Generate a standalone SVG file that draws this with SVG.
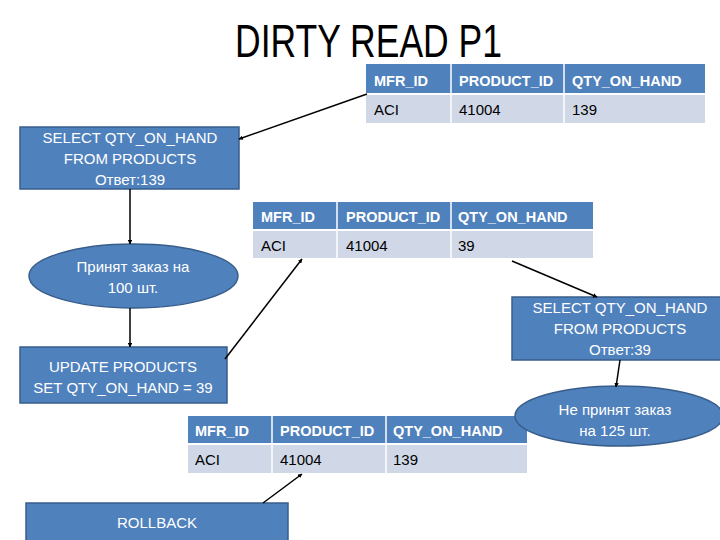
<svg xmlns="http://www.w3.org/2000/svg" width="720" height="540" viewBox="0 0 720 540">
<defs>
<style>
text{font-family:"Liberation Sans","DejaVu Sans",sans-serif}
.title{font-size:46px;fill:#000}
.box{fill:#4F81BD;stroke:#385D8A;stroke-width:1.5}
.bt{font-size:15px;fill:#fff;text-anchor:middle}
.hdr{fill:#4F81BD}
.row{fill:#D0D8E8}
.sep{stroke:#fff;stroke-width:1.5}
.ht{font-size:14.5px;font-weight:bold;fill:#fff}
.dt{font-size:15px;fill:#000}
.conn line{stroke:#000;stroke-width:1.5;fill:none}
</style>
<marker id="ah" viewBox="0 0 10 10" refX="9" refY="5" markerWidth="3" markerHeight="3" orient="auto" markerUnits="strokeWidth">
<path d="M0,0 L10,5 L0,10 z" fill="#000"/>
</marker>
</defs>
<rect width="720" height="540" fill="#fff"/>
<text class="title" x="235" y="57" textLength="267" lengthAdjust="spacingAndGlyphs">DIRTY READ P1</text>

<g id="table1">
<rect class="hdr" x="366" y="64" width="339" height="29"/>
<rect class="row" x="366" y="95" width="339" height="28"/>
<line class="sep" x1="451" y1="64" x2="451" y2="123"/>
<line class="sep" x1="564" y1="64" x2="564" y2="123"/>
<text class="ht" x="374" y="86">MFR_ID</text>
<text class="ht" x="459" y="86">PRODUCT_ID</text>
<text class="ht" x="572" y="86">QTY_ON_HAND</text>
<text class="dt" x="374" y="115">ACI</text>
<text class="dt" x="459" y="115">41004</text>
<text class="dt" x="572" y="115">139</text>
</g>

<g id="table2">
<rect class="hdr" x="253" y="202" width="340" height="27"/>
<rect class="row" x="253" y="231" width="340" height="27"/>
<line class="sep" x1="337" y1="202" x2="337" y2="258"/>
<line class="sep" x1="451" y1="202" x2="451" y2="258"/>
<text class="ht" x="261" y="222">MFR_ID</text>
<text class="ht" x="346" y="222">PRODUCT_ID</text>
<text class="ht" x="458" y="222">QTY_ON_HAND</text>
<text class="dt" x="261" y="251">ACI</text>
<text class="dt" x="346" y="251">41004</text>
<text class="dt" x="458" y="251">39</text>
</g>

<g id="table3">
<rect class="hdr" x="188" y="416" width="339" height="27"/>
<rect class="row" x="188" y="445" width="339" height="28"/>
<line class="sep" x1="272" y1="416" x2="272" y2="473"/>
<line class="sep" x1="386" y1="416" x2="386" y2="473"/>
<text class="ht" x="195" y="436">MFR_ID</text>
<text class="ht" x="280" y="436">PRODUCT_ID</text>
<text class="ht" x="393" y="436">QTY_ON_HAND</text>
<text class="dt" x="195" y="465">ACI</text>
<text class="dt" x="280" y="465">41004</text>
<text class="dt" x="393" y="465">139</text>
</g>

<g id="select1">
<rect class="box" x="20" y="127" width="219" height="62"/>
<text class="bt" x="130" y="143">SELECT QTY_ON_HAND</text>
<text class="bt" x="130" y="164">FROM PRODUCTS</text>
<text class="bt" x="130" y="185">Ответ:139</text>
</g>

<g id="accept100">
<ellipse class="box" cx="133.5" cy="276" rx="104.5" ry="32"/>
<text class="bt" x="133" y="272">Принят заказ на</text>
<text class="bt" x="133" y="293">100 шт.</text>
</g>

<g id="update">
<rect class="box" x="20" y="347" width="207" height="56"/>
<text class="bt" x="123" y="372">UPDATE PRODUCTS</text>
<text class="bt" x="123" y="393">SET QTY_ON_HAND = 39</text>
</g>

<g id="rollback">
<rect class="box" x="26" y="503" width="262" height="45"/>
<text class="bt" x="157" y="528">ROLLBACK</text>
</g>

<g id="select2">
<rect class="box" x="512" y="297" width="215" height="63"/>
<text class="bt" x="620" y="313">SELECT QTY_ON_HAND</text>
<text class="bt" x="620" y="334">FROM PRODUCTS</text>
<text class="bt" x="620" y="355">Ответ:39</text>
</g>

<g id="reject125">
<ellipse class="box" cx="619" cy="416" rx="104" ry="30"/>
<text class="bt" x="615" y="415">Не принят заказ</text>
<text class="bt" x="615" y="436">на 125 шт.</text>
</g>

<g id="connectors" class="conn">
<line x1="367" y1="94" x2="239" y2="139" marker-end="url(#ah)"/>
<line x1="130" y1="189" x2="130" y2="244" marker-end="url(#ah)"/>
<line x1="130" y1="308" x2="130" y2="347" marker-end="url(#ah)"/>
<line x1="225" y1="359" x2="302" y2="259" marker-end="url(#ah)"/>
<line x1="512" y1="261" x2="597" y2="297" marker-end="url(#ah)"/>
<line x1="620" y1="360" x2="616" y2="387" marker-end="url(#ah)"/>
<line x1="263" y1="503" x2="302" y2="474" marker-end="url(#ah)"/>
</g>
</svg>
